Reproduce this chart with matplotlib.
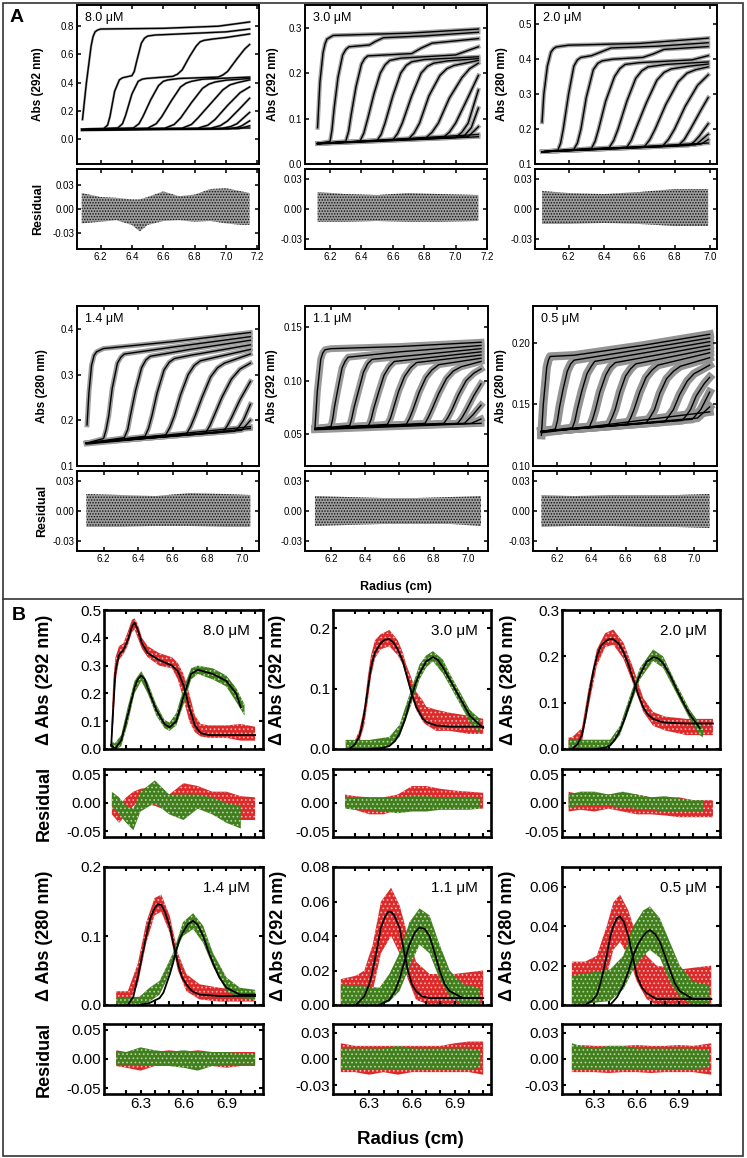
import matplotlib
matplotlib.use("Agg")
import matplotlib.pyplot as plt
from matplotlib.lines import Line2D
from matplotlib.patches import Rectangle
from matplotlib.ticker import FormatStrFormatter

plt.rcParams["font.family"] = ["Liberation Sans", "DejaVu Sans"]
plt.rcParams["hatch.linewidth"] = 0.7

# ---------------- panel A: scans, (radius cm, absorbance) ----------------
scans_80 = [
    [(6.085, 0.14), (6.11, 0.40), (6.14, 0.66), (6.152, 0.725), (6.165, 0.76), (6.18, 0.772), (6.20, 0.78),
     (6.60, 0.785), (6.95, 0.80), (7.15, 0.83)],
    [(6.08, 0.07), (6.22, 0.075), (6.245, 0.10), (6.26, 0.16), (6.29, 0.34), (6.32, 0.42), (6.34, 0.435),
     (6.36, 0.44), (6.40, 0.45), (6.415, 0.48), (6.43, 0.55), (6.46, 0.68), (6.48, 0.715), (6.50, 0.73),
     (6.55, 0.738), (6.60, 0.74), (7.00, 0.76), (7.15, 0.78)],
    [(6.08, 0.07), (6.31, 0.08), (6.34, 0.11), (6.36, 0.17), (6.40, 0.32), (6.44, 0.41), (6.465, 0.425),
     (6.49, 0.43), (6.66, 0.445), (6.69, 0.46), (6.72, 0.49), (6.77, 0.59), (6.81, 0.66), (6.835, 0.69),
     (6.86, 0.70), (6.92, 0.71), (7.00, 0.72), (7.15, 0.745)],
    [(6.08, 0.07), (6.41, 0.08), (6.445, 0.11), (6.47, 0.16), (6.52, 0.28), (6.57, 0.38), (6.60, 0.41),
     (6.63, 0.42), (6.70, 0.43), (6.95, 0.44), (6.98, 0.455), (7.01, 0.48), (7.07, 0.57), (7.12, 0.64), (7.15, 0.67)],
    [(6.08, 0.068), (6.50, 0.078), (6.555, 0.11), (6.59, 0.16), (6.65, 0.27), (6.71, 0.37), (6.745, 0.397),
     (6.78, 0.41), (6.85, 0.425), (7.15, 0.44)],
    [(6.08, 0.068), (6.61, 0.078), (6.67, 0.105), (6.71, 0.15), (6.78, 0.26), (6.85, 0.36), (6.89, 0.39),
     (6.93, 0.405), (7.00, 0.418), (7.15, 0.43)],
    [(6.08, 0.067), (6.72, 0.078), (6.78, 0.105), (6.82, 0.15), (6.90, 0.25), (6.98, 0.35), (7.025, 0.385),
     (7.07, 0.40), (7.15, 0.42)],
    [(6.08, 0.067), (6.82, 0.078), (6.885, 0.10), (6.93, 0.14), (7.01, 0.24), (7.09, 0.33), (7.15, 0.37)],
    [(6.08, 0.066), (6.90, 0.077), (6.965, 0.097), (7.01, 0.13), (7.09, 0.22), (7.15, 0.29)],
    [(6.08, 0.066), (6.97, 0.076), (7.03, 0.09), (7.07, 0.11), (7.15, 0.19)],
    [(6.08, 0.065), (7.02, 0.074), (7.07, 0.083), (7.10, 0.095), (7.15, 0.13)],
    [(6.08, 0.065), (7.08, 0.075), (7.15, 0.095)],
    [(6.08, 0.065), (7.15, 0.08)],
]
scans_30 = [
    [(6.12, 0.08), (6.135, 0.18), (6.155, 0.245), (6.168, 0.265), (6.18, 0.275), (6.22, 0.283), (6.70, 0.288),
     (7.145, 0.297)],
    [(6.12, 0.045), (6.20, 0.05), (6.212, 0.075), (6.225, 0.12), (6.25, 0.19), (6.28, 0.24), (6.30, 0.252),
     (6.32, 0.258), (6.45, 0.262), (6.49, 0.27), (6.54, 0.278), (6.80, 0.282), (7.145, 0.29)],
    [(6.12, 0.045), (6.30, 0.05), (6.318, 0.072), (6.335, 0.11), (6.365, 0.17), (6.40, 0.22), (6.42, 0.232),
     (6.44, 0.238), (6.72, 0.243), (6.78, 0.255), (6.85, 0.266), (7.145, 0.276)],
    [(6.12, 0.045), (6.39, 0.05), (6.415, 0.068), (6.44, 0.10), (6.48, 0.155), (6.52, 0.20), (6.55, 0.218),
     (6.58, 0.228), (6.65, 0.233), (7.00, 0.24), (7.08, 0.25), (7.145, 0.258)],
    [(6.12, 0.045), (6.50, 0.052), (6.525, 0.065), (6.55, 0.09), (6.60, 0.15), (6.65, 0.20), (6.685, 0.217),
     (6.72, 0.225), (6.80, 0.23), (7.145, 0.236)],
    [(6.12, 0.045), (6.60, 0.053), (6.63, 0.067), (6.66, 0.09), (6.72, 0.15), (6.78, 0.20), (6.82, 0.215),
     (6.86, 0.222), (6.95, 0.227), (7.145, 0.232)],
    [(6.12, 0.045), (6.70, 0.055), (6.735, 0.068), (6.77, 0.09), (6.83, 0.15), (6.90, 0.195), (6.945, 0.21),
     (6.99, 0.217), (7.145, 0.228)],
    [(6.12, 0.045), (6.81, 0.057), (6.85, 0.07), (6.89, 0.09), (6.96, 0.145), (7.04, 0.19), (7.09, 0.21),
     (7.145, 0.222)],
    [(6.12, 0.045), (6.92, 0.058), (6.96, 0.07), (7.00, 0.09), (7.07, 0.14), (7.145, 0.195)],
    [(6.12, 0.045), (7.00, 0.058), (7.04, 0.07), (7.08, 0.09), (7.145, 0.163)],
    [(6.12, 0.045), (7.05, 0.06), (7.10, 0.08), (7.145, 0.123)],
    [(6.12, 0.045), (7.08, 0.06), (7.145, 0.082)],
    [(6.12, 0.045), (7.145, 0.065)],
    [(6.12, 0.044), (7.145, 0.06)],
]
scans_20 = [
    [(6.05, 0.22), (6.06, 0.30), (6.08, 0.38), (6.10, 0.42), (6.115, 0.43), (6.13, 0.435), (6.20, 0.44),
     (6.60, 0.445), (6.99, 0.46)],
    [(6.05, 0.135), (6.14, 0.14), (6.155, 0.16), (6.17, 0.20), (6.20, 0.30), (6.23, 0.38), (6.25, 0.398),
     (6.27, 0.405), (6.33, 0.41), (6.38, 0.42), (6.44, 0.432), (6.70, 0.437), (6.99, 0.447)],
    [(6.05, 0.135), (6.23, 0.142), (6.25, 0.16), (6.27, 0.20), (6.30, 0.29), (6.34, 0.37), (6.365, 0.388),
     (6.39, 0.395), (6.45, 0.40), (6.62, 0.405), (6.68, 0.415), (6.74, 0.428), (6.99, 0.436)],
    [(6.05, 0.135), (6.33, 0.145), (6.35, 0.165), (6.37, 0.20), (6.41, 0.28), (6.46, 0.35), (6.49, 0.373),
     (6.52, 0.385), (6.60, 0.39), (6.90, 0.398), (6.99, 0.41)],
    [(6.05, 0.135), (6.43, 0.147), (6.455, 0.167), (6.48, 0.20), (6.53, 0.28), (6.58, 0.345), (6.615, 0.367),
     (6.65, 0.378), (6.75, 0.385), (6.99, 0.392)],
    [(6.05, 0.135), (6.53, 0.148), (6.555, 0.168), (6.58, 0.20), (6.64, 0.275), (6.70, 0.34), (6.74, 0.362),
     (6.78, 0.372), (6.88, 0.38), (6.99, 0.386)],
    [(6.05, 0.135), (6.63, 0.15), (6.66, 0.17), (6.69, 0.20), (6.75, 0.27), (6.82, 0.335), (6.87, 0.36),
     (6.92, 0.37), (6.99, 0.378)],
    [(6.05, 0.135), (6.73, 0.15), (6.765, 0.17), (6.80, 0.20), (6.86, 0.265), (6.93, 0.325), (6.99, 0.355)],
    [(6.05, 0.135), (6.82, 0.152), (6.855, 0.17), (6.89, 0.20), (6.95, 0.255), (6.99, 0.29)],
    [(6.05, 0.135), (6.88, 0.153), (6.91, 0.163), (6.94, 0.18), (6.99, 0.215)],
    [(6.05, 0.135), (6.92, 0.155), (6.99, 0.185)],
    [(6.05, 0.135), (6.95, 0.157), (6.99, 0.17)],
    [(6.05, 0.135), (6.99, 0.16)],
]
scans_14 = [
    [(6.104, 0.19), (6.115, 0.26), (6.13, 0.32), (6.145, 0.342), (6.16, 0.35), (6.20, 0.357), (6.60, 0.372),
     (7.05, 0.392)],
    [(6.10, 0.15), (6.20, 0.16), (6.215, 0.18), (6.23, 0.21), (6.25, 0.27), (6.28, 0.325), (6.30, 0.338),
     (6.32, 0.345), (6.60, 0.36), (7.05, 0.383)],
    [(6.10, 0.15), (6.32, 0.162), (6.34, 0.18), (6.355, 0.21), (6.385, 0.265), (6.42, 0.315), (6.445, 0.332),
     (6.47, 0.34), (6.70, 0.355), (7.05, 0.375)],
    [(6.10, 0.15), (6.44, 0.165), (6.46, 0.182), (6.48, 0.21), (6.51, 0.26), (6.55, 0.31), (6.58, 0.327),
     (6.61, 0.335), (6.70, 0.342), (7.05, 0.365)],
    [(6.10, 0.15), (6.56, 0.168), (6.585, 0.185), (6.61, 0.21), (6.645, 0.255), (6.69, 0.30), (6.725, 0.32),
     (6.76, 0.33), (6.85, 0.338), (7.05, 0.355)],
    [(6.10, 0.15), (6.68, 0.17), (6.705, 0.187), (6.73, 0.21), (6.77, 0.25), (6.82, 0.295), (6.86, 0.315),
     (6.90, 0.325), (7.05, 0.345)],
    [(6.10, 0.15), (6.79, 0.172), (6.815, 0.188), (6.84, 0.21), (6.885, 0.25), (6.94, 0.29), (6.99, 0.312),
     (7.05, 0.325)],
    [(6.10, 0.15), (6.89, 0.174), (6.915, 0.187), (6.94, 0.205), (6.99, 0.245), (7.05, 0.285)],
    [(6.10, 0.15), (6.96, 0.176), (6.985, 0.186), (7.01, 0.20), (7.05, 0.235)],
    [(6.10, 0.15), (7.00, 0.178), (7.05, 0.20)],
    [(6.10, 0.15), (7.05, 0.186)],
    [(6.10, 0.148), (7.05, 0.182)],
]
scans_11 = [
    [(6.106, 0.055), (6.12, 0.09), (6.14, 0.12), (6.152, 0.126), (6.165, 0.129), (6.20, 0.13), (6.60, 0.132),
     (7.077, 0.136)],
    [(6.106, 0.055), (6.20, 0.057), (6.21, 0.064), (6.22, 0.075), (6.24, 0.092), (6.265, 0.112), (6.282, 0.118),
     (6.30, 0.122), (6.60, 0.127), (7.077, 0.133)],
    [(6.106, 0.055), (6.31, 0.058), (6.322, 0.065), (6.335, 0.075), (6.36, 0.09), (6.39, 0.108), (6.415, 0.116),
     (6.44, 0.12), (6.70, 0.124), (7.077, 0.13)],
    [(6.106, 0.055), (6.42, 0.058), (6.435, 0.064), (6.45, 0.074), (6.48, 0.09), (6.51, 0.105), (6.54, 0.113),
     (6.57, 0.118), (7.077, 0.127)],
    [(6.106, 0.055), (6.53, 0.059), (6.548, 0.065), (6.565, 0.074), (6.595, 0.09), (6.63, 0.104), (6.665, 0.112),
     (6.70, 0.117), (7.077, 0.124)],
    [(6.106, 0.055), (6.64, 0.059), (6.66, 0.065), (6.68, 0.073), (6.715, 0.089), (6.755, 0.103), (6.79, 0.11),
     (6.83, 0.115), (7.077, 0.121)],
    [(6.106, 0.055), (6.75, 0.06), (6.77, 0.066), (6.79, 0.073), (6.83, 0.088), (6.875, 0.102), (6.915, 0.109),
     (6.96, 0.113), (7.077, 0.118)],
    [(6.106, 0.055), (6.86, 0.06), (6.882, 0.065), (6.905, 0.072), (6.946, 0.087), (6.99, 0.10), (7.035, 0.107),
     (7.077, 0.111)],
    [(6.106, 0.055), (6.94, 0.06), (6.965, 0.065), (6.99, 0.072), (7.035, 0.086), (7.077, 0.097)],
    [(6.106, 0.055), (6.98, 0.06), (7.03, 0.068), (7.077, 0.077)],
    [(6.106, 0.055), (7.02, 0.06), (7.077, 0.064)],
    [(6.106, 0.054), (7.077, 0.06)],
]
scans_05 = [
    [(6.109, 0.125), (6.12, 0.15), (6.14, 0.18), (6.15, 0.186), (6.16, 0.189), (6.30, 0.19), (6.70, 0.198),
     (7.091, 0.207)],
    [(6.109, 0.128), (6.19, 0.13), (6.203, 0.137), (6.215, 0.148), (6.235, 0.162), (6.26, 0.177), (6.28, 0.183),
     (6.30, 0.186), (6.70, 0.195), (7.091, 0.204)],
    [(6.109, 0.128), (6.29, 0.131), (6.305, 0.137), (6.32, 0.147), (6.345, 0.161), (6.375, 0.175), (6.40, 0.181),
     (6.42, 0.185), (7.091, 0.201)],
    [(6.109, 0.128), (6.39, 0.132), (6.408, 0.138), (6.425, 0.146), (6.45, 0.16), (6.485, 0.174), (6.51, 0.18),
     (6.54, 0.184), (7.091, 0.198)],
    [(6.109, 0.128), (6.50, 0.133), (6.52, 0.139), (6.54, 0.146), (6.567, 0.16), (6.60, 0.173), (6.63, 0.179),
     (6.66, 0.183), (7.091, 0.195)],
    [(6.109, 0.128), (6.61, 0.134), (6.63, 0.139), (6.65, 0.146), (6.683, 0.16), (6.72, 0.172), (6.755, 0.178),
     (6.79, 0.182), (7.091, 0.192)],
    [(6.109, 0.128), (6.72, 0.135), (6.745, 0.14), (6.77, 0.146), (6.80, 0.159), (6.84, 0.171), (6.88, 0.177),
     (6.92, 0.181), (7.091, 0.188)],
    [(6.109, 0.128), (6.83, 0.136), (6.855, 0.141), (6.88, 0.146), (6.916, 0.158), (6.96, 0.169), (7.00, 0.175),
     (7.04, 0.178), (7.091, 0.182)],
    [(6.109, 0.128), (6.93, 0.137), (6.955, 0.141), (6.98, 0.146), (7.013, 0.157), (7.06, 0.167), (7.091, 0.172)],
    [(6.109, 0.128), (6.99, 0.138), (7.04, 0.146), (7.091, 0.16)],
    [(6.109, 0.128), (7.02, 0.139), (7.091, 0.148)],
    [(6.109, 0.127), (7.091, 0.144)],
]

# residual clouds for panel A: radius, lower and upper edge of the point cloud
res80_r = [6.08, 6.20, 6.30, 6.40, 6.45, 6.50, 6.60, 6.70, 6.80, 6.90, 7.00, 7.10, 7.15]
res80_lo = [-0.018, -0.016, -0.014, -0.020, -0.028, -0.020, -0.015, -0.014, -0.016, -0.015, -0.018, -0.020, -0.020]
res80_hi = [0.020, 0.015, 0.014, 0.012, 0.012, 0.015, 0.022, 0.016, 0.018, 0.025, 0.026, 0.022, 0.020]
res30_r = [6.12, 6.30, 6.50, 6.70, 6.90, 7.145]
res30_lo = [-0.013, -0.013, -0.012, -0.013, -0.013, -0.012]
res30_hi = [0.017, 0.015, 0.014, 0.016, 0.015, 0.014]
res20_r = [6.05, 6.20, 6.40, 6.60, 6.80, 6.99]
res20_lo = [-0.015, -0.015, -0.014, -0.015, -0.017, -0.017]
res20_hi = [0.018, 0.016, 0.015, 0.017, 0.020, 0.020]
res14_r = [6.10, 6.30, 6.50, 6.70, 6.90, 7.05]
res14_lo = [-0.016, -0.016, -0.015, -0.015, -0.016, -0.016]
res14_hi = [0.017, 0.016, 0.015, 0.018, 0.017, 0.016]
res11_r = [6.106, 6.30, 6.50, 6.70, 6.90, 7.077]
res11_lo = [-0.015, -0.014, -0.013, -0.013, -0.013, -0.015]
res11_hi = [0.015, 0.014, 0.013, 0.013, 0.014, 0.015]
res05_r = [6.109, 6.30, 6.50, 6.70, 6.90, 7.091]
res05_lo = [-0.016, -0.015, -0.015, -0.016, -0.016, -0.017]
res05_hi = [0.016, 0.015, 0.016, 0.016, 0.016, 0.017]

# ---------------- panel B: difference curves ----------------
# data point bands (radius, lower, upper) and fitted curves (radius, value)
b80_red_r = [6.095, 6.11, 6.125, 6.15, 6.18, 6.21, 6.24, 6.258, 6.28, 6.31, 6.35, 6.43, 6.52, 6.56, 6.60, 6.64,
             6.68, 6.72, 6.78, 6.90, 7.00, 7.10]
b80_red_lo = [0.0, 0.10, 0.24, 0.32, 0.34, 0.37, 0.42, 0.43, 0.40, 0.36, 0.33, 0.30, 0.29, 0.25, 0.18, 0.10,
              0.06, 0.045, 0.04, 0.04, 0.03, 0.03]
b80_red_hi = [0.06, 0.25, 0.33, 0.37, 0.38, 0.42, 0.465, 0.47, 0.45, 0.40, 0.37, 0.345, 0.33, 0.31, 0.27, 0.20,
              0.12, 0.09, 0.085, 0.085, 0.09, 0.08]
b80_red_fit_r = [6.095, 6.11, 6.125, 6.15, 6.18, 6.21, 6.24, 6.258, 6.28, 6.31, 6.35, 6.43, 6.52, 6.56, 6.60, 6.64,
                 6.68, 6.72, 6.78, 7.10]
b80_red_fit = [0.01, 0.15, 0.28, 0.34, 0.355, 0.39, 0.44, 0.455, 0.43, 0.38, 0.345, 0.32, 0.30, 0.28, 0.23, 0.15,
               0.085, 0.057, 0.05, 0.05]
b80_grn_r = [6.095, 6.12, 6.165, 6.21, 6.258, 6.305, 6.35, 6.41, 6.467, 6.502, 6.55, 6.607, 6.653, 6.70, 6.805,
             6.898, 6.967, 7.026]
b80_grn_lo = [0.0, -0.005, 0.01, 0.09, 0.20, 0.245, 0.20, 0.12, 0.075, 0.065, 0.085, 0.17, 0.25, 0.27, 0.25,
              0.225, 0.17, 0.12]
b80_grn_hi = [0.03, 0.02, 0.05, 0.15, 0.245, 0.28, 0.24, 0.16, 0.105, 0.095, 0.13, 0.23, 0.29, 0.30, 0.29,
              0.265, 0.22, 0.16]
b80_grn_fit_r = [6.095, 6.12, 6.165, 6.21, 6.258, 6.28, 6.305, 6.33, 6.35, 6.41, 6.467, 6.502, 6.55, 6.607, 6.653,
                 6.70, 6.805, 6.898, 6.967, 7.0]
b80_grn_fit = [0.015, 0.0, 0.03, 0.12, 0.22, 0.25, 0.265, 0.25, 0.22, 0.14, 0.09, 0.078, 0.10, 0.20, 0.27,
               0.285, 0.27, 0.245, 0.20, 0.15]

b30_red_r = [6.135, 6.20, 6.229, 6.265, 6.29, 6.312, 6.34, 6.38, 6.441, 6.50, 6.535, 6.559, 6.60, 6.629, 6.676,
             6.70, 6.77, 6.865, 7.00, 7.10]
b30_red_lo = [0.0, 0.0, 0.01, 0.04, 0.08, 0.12, 0.15, 0.165, 0.17, 0.155, 0.14, 0.12, 0.085, 0.065, 0.045,
              0.04, 0.03, 0.03, 0.025, 0.025]
b30_red_hi = [0.015, 0.015, 0.03, 0.07, 0.12, 0.155, 0.18, 0.19, 0.197, 0.18, 0.16, 0.14, 0.115, 0.095, 0.08,
              0.07, 0.065, 0.06, 0.055, 0.05]
b30_red_fit_r = [6.159, 6.20, 6.229, 6.25, 6.265, 6.29, 6.312, 6.34, 6.38, 6.41, 6.441, 6.47, 6.50, 6.535, 6.559,
                 6.60, 6.629, 6.676, 6.70, 6.74, 6.77, 6.865, 7.10]
b30_red_fit = [0.0, 0.008, 0.02, 0.04, 0.06, 0.10, 0.135, 0.16, 0.175, 0.181, 0.182, 0.176, 0.165, 0.145, 0.125,
               0.09, 0.07, 0.05, 0.045, 0.041, 0.039, 0.037, 0.037]
b30_grn_r = [6.135, 6.30, 6.441, 6.512, 6.582, 6.653, 6.70, 6.747, 6.817, 6.865, 6.912, 7.006, 7.076]
b30_grn_lo = [0.0, 0.0, 0.005, 0.02, 0.065, 0.115, 0.135, 0.145, 0.125, 0.105, 0.085, 0.045, 0.025]
b30_grn_hi = [0.015, 0.015, 0.02, 0.04, 0.09, 0.14, 0.155, 0.162, 0.148, 0.125, 0.105, 0.065, 0.05]
b30_grn_fit_r = [6.30, 6.40, 6.441, 6.48, 6.512, 6.55, 6.582, 6.62, 6.653, 6.70, 6.747, 6.78, 6.817, 6.865, 6.912,
                 6.96, 7.006, 7.10]
b30_grn_fit = [0.0, 0.002, 0.005, 0.013, 0.025, 0.048, 0.075, 0.105, 0.125, 0.145, 0.152, 0.148, 0.135, 0.115,
               0.095, 0.075, 0.055, 0.035]

b20_red_r = [6.117, 6.14, 6.211, 6.258, 6.317, 6.376, 6.434, 6.505, 6.575, 6.646, 6.716, 6.80, 6.952, 7.14]
b20_red_lo = [0.0, 0.0, 0.015, 0.09, 0.18, 0.22, 0.225, 0.195, 0.14, 0.08, 0.05, 0.04, 0.03, 0.03]
b20_red_hi = [0.025, 0.025, 0.045, 0.13, 0.215, 0.25, 0.258, 0.23, 0.175, 0.11, 0.08, 0.07, 0.065, 0.065]
b20_red_fit_r = [6.14, 6.18, 6.211, 6.235, 6.258, 6.29, 6.317, 6.345, 6.376, 6.405, 6.434, 6.47, 6.505, 6.54, 6.575,
                 6.61, 6.646, 6.68, 6.716, 6.76, 6.80, 6.952, 7.14]
b20_red_fit = [0.0, 0.01, 0.03, 0.065, 0.11, 0.165, 0.20, 0.222, 0.232, 0.237, 0.237, 0.228, 0.21, 0.183, 0.15,
               0.118, 0.09, 0.074, 0.065, 0.06, 0.057, 0.055, 0.055]
b20_grn_r = [6.117, 6.317, 6.411, 6.481, 6.552, 6.622, 6.716, 6.787, 6.881, 6.975, 7.046, 7.07]
b20_grn_lo = [0.0, 0.0, 0.005, 0.03, 0.09, 0.15, 0.19, 0.175, 0.12, 0.065, 0.03, 0.025]
b20_grn_hi = [0.02, 0.02, 0.02, 0.05, 0.115, 0.175, 0.215, 0.20, 0.14, 0.085, 0.055, 0.045]
b20_grn_fit_r = [6.317, 6.38, 6.411, 6.445, 6.481, 6.515, 6.552, 6.59, 6.622, 6.67, 6.716, 6.75, 6.787, 6.835,
                 6.881, 6.93, 6.975, 7.046]
b20_grn_fit = [0.0, 0.003, 0.008, 0.02, 0.04, 0.066, 0.10, 0.135, 0.16, 0.188, 0.198, 0.196, 0.185, 0.16, 0.13,
               0.10, 0.075, 0.045]

b14_red_r = [6.13, 6.211, 6.281, 6.34, 6.398, 6.445, 6.503, 6.561, 6.62, 6.713, 6.85, 7.10]
b14_red_lo = [0.0, 0.0, 0.03, 0.09, 0.13, 0.135, 0.105, 0.05, 0.02, 0.008, 0.005, 0.005]
b14_red_hi = [0.02, 0.02, 0.06, 0.12, 0.155, 0.16, 0.13, 0.075, 0.045, 0.03, 0.025, 0.02]
b14_red_fit_r = [6.211, 6.25, 6.281, 6.31, 6.34, 6.37, 6.398, 6.42, 6.445, 6.47, 6.503, 6.53, 6.561, 6.59, 6.62,
                 6.66, 6.713, 6.85, 7.10]
b14_red_fit = [0.0, 0.012, 0.04, 0.07, 0.10, 0.127, 0.14, 0.146, 0.145, 0.135, 0.115, 0.088, 0.06, 0.04, 0.03,
               0.02, 0.015, 0.013, 0.013]
b14_grn_r = [6.13, 6.293, 6.363, 6.433, 6.48, 6.526, 6.573, 6.596, 6.667, 6.737, 6.807, 6.90, 6.994, 7.10]
b14_grn_lo = [0.0, 0.0, 0.005, 0.015, 0.035, 0.06, 0.09, 0.10, 0.11, 0.09, 0.055, 0.02, 0.01, 0.008]
b14_grn_hi = [0.01, 0.012, 0.025, 0.035, 0.055, 0.075, 0.105, 0.12, 0.133, 0.115, 0.075, 0.04, 0.025, 0.022]
b14_grn_fit_r = [6.293, 6.363, 6.433, 6.46, 6.48, 6.505, 6.526, 6.55, 6.573, 6.596, 6.63, 6.667, 6.70, 6.737, 6.77,
                 6.807, 6.85, 6.90, 6.994, 7.10]
b14_grn_fit = [0.0, 0.003, 0.01, 0.018, 0.03, 0.045, 0.06, 0.08, 0.095, 0.105, 0.117, 0.122, 0.116, 0.10, 0.08,
               0.06, 0.04, 0.025, 0.015, 0.015]

b11_red_r = [6.10, 6.206, 6.265, 6.324, 6.382, 6.453, 6.512, 6.571, 6.629, 6.723, 6.90, 7.10]
b11_red_lo = [0.0, 0.0, 0.0, 0.008, 0.03, 0.04, 0.03, 0.015, 0.003, 0.0, 0.0, 0.0]
b11_red_hi = [0.015, 0.017, 0.02, 0.035, 0.06, 0.068, 0.058, 0.04, 0.025, 0.018, 0.018, 0.02]
b11_red_fit_r = [6.206, 6.265, 6.30, 6.324, 6.355, 6.382, 6.41, 6.432, 6.453, 6.475, 6.512, 6.54, 6.571, 6.60, 6.629,
                 6.67, 6.723, 6.90, 7.10]
b11_red_fit = [0.0, 0.005, 0.012, 0.02, 0.033, 0.045, 0.051, 0.054, 0.054, 0.052, 0.045, 0.033, 0.02, 0.012, 0.008,
               0.005, 0.004, 0.004, 0.004]
b11_grn_r = [6.10, 6.371, 6.441, 6.512, 6.582, 6.653, 6.723, 6.794, 6.865, 6.958, 7.076]
b11_grn_lo = [0.0, 0.0, 0.002, 0.008, 0.022, 0.035, 0.03, 0.015, 0.005, 0.0, 0.0]
b11_grn_hi = [0.012, 0.01, 0.018, 0.03, 0.048, 0.056, 0.052, 0.035, 0.02, 0.012, 0.01]
b11_grn_fit_r = [6.371, 6.441, 6.48, 6.512, 6.55, 6.582, 6.62, 6.653, 6.69, 6.723, 6.76, 6.794, 6.83, 6.865, 6.958,
                 7.10]
b11_grn_fit = [0.0, 0.003, 0.008, 0.015, 0.026, 0.035, 0.042, 0.045, 0.044, 0.04, 0.03, 0.02, 0.012, 0.008, 0.004,
               0.004]

b05_red_r = [6.14, 6.234, 6.317, 6.387, 6.434, 6.481, 6.54, 6.60, 6.67, 6.74, 6.90, 7.128]
b05_red_lo = [0.0, 0.0, 0.002, 0.015, 0.028, 0.032, 0.025, 0.012, 0.003, 0.0, 0.0, 0.0]
b05_red_hi = [0.022, 0.022, 0.025, 0.04, 0.052, 0.056, 0.048, 0.035, 0.025, 0.02, 0.018, 0.02]
b05_red_fit_r = [6.234, 6.28, 6.317, 6.35, 6.387, 6.41, 6.434, 6.46, 6.481, 6.51, 6.54, 6.57, 6.60, 6.635, 6.67,
                 6.74, 6.90, 7.128]
b05_red_fit = [0.0, 0.002, 0.005, 0.013, 0.025, 0.034, 0.04, 0.044, 0.045, 0.042, 0.035, 0.025, 0.015, 0.009,
               0.006, 0.003, 0.003, 0.003]
b05_grn_r = [6.14, 6.411, 6.505, 6.575, 6.646, 6.693, 6.764, 6.834, 6.905, 6.999, 7.117]
b05_grn_lo = [0.0, 0.002, 0.008, 0.018, 0.025, 0.028, 0.024, 0.012, 0.004, 0.0, 0.0]
b05_grn_hi = [0.015, 0.018, 0.025, 0.04, 0.048, 0.05, 0.044, 0.032, 0.02, 0.012, 0.01]
b05_grn_fit_r = [6.411, 6.46, 6.505, 6.54, 6.575, 6.61, 6.646, 6.67, 6.693, 6.73, 6.764, 6.80, 6.834, 6.87, 6.905,
                 6.999, 7.128]
b05_grn_fit = [0.0, 0.004, 0.01, 0.017, 0.025, 0.031, 0.035, 0.037, 0.038, 0.036, 0.032, 0.025, 0.018, 0.011,
               0.007, 0.003, 0.003]

# residual bands for panel B (radius, lower, upper)
rb80_red_r = [6.10, 6.15, 6.20, 6.25, 6.30, 6.40, 6.50, 6.60, 6.70, 6.80, 6.90, 7.00, 7.10]
rb80_red_lo = [-0.02, -0.035, -0.02, -0.005, 0.0, -0.005, -0.015, 0.0, -0.01, -0.015, -0.02, -0.03, -0.03]
rb80_red_hi = [0.012, -0.005, 0.01, 0.02, 0.025, 0.03, 0.015, 0.035, 0.03, 0.02, 0.02, 0.012, 0.01]
rb80_grn_r = [6.10, 6.15, 6.20, 6.25, 6.30, 6.40, 6.50, 6.60, 6.70, 6.80, 6.90, 7.00]
rb80_grn_lo = [-0.005, -0.02, -0.035, -0.048, -0.015, 0.0, -0.02, -0.03, -0.01, -0.02, -0.035, -0.045]
rb80_grn_hi = [0.02, 0.01, -0.005, -0.01, 0.02, 0.04, 0.015, 0.015, 0.015, 0.01, 0.0, -0.005]

rb30_red_r = [6.13, 6.20, 6.30, 6.40, 6.50, 6.60, 6.70, 6.80, 6.90, 7.00, 7.10]
rb30_red_lo = [-0.008, -0.012, -0.02, -0.02, -0.012, -0.003, -0.005, -0.008, -0.01, -0.01, -0.01]
rb30_red_hi = [0.015, 0.012, 0.01, 0.01, 0.015, 0.03, 0.03, 0.025, 0.022, 0.02, 0.018]
rb30_grn_r = [6.13, 6.20, 6.30, 6.40, 6.50, 6.60, 6.70, 6.80, 6.90, 7.00, 7.08]
rb30_grn_lo = [-0.01, -0.012, -0.012, -0.015, -0.018, -0.015, -0.015, -0.012, -0.012, -0.012, -0.01]
rb30_grn_hi = [0.01, 0.01, 0.01, 0.01, 0.01, 0.012, 0.012, 0.01, 0.01, 0.01, 0.008]

rb20_red_r = [6.117, 6.20, 6.30, 6.40, 6.50, 6.60, 6.70, 6.80, 6.90, 7.00, 7.14]
rb20_red_lo = [-0.015, -0.012, -0.015, -0.01, -0.015, -0.02, -0.02, -0.022, -0.025, -0.025, -0.025]
rb20_red_hi = [0.02, 0.015, 0.015, 0.015, 0.015, 0.015, 0.01, 0.01, 0.01, 0.005, 0.005]
rb20_grn_r = [6.117, 6.20, 6.30, 6.40, 6.50, 6.60, 6.70, 6.80, 6.90, 7.00, 7.07]
rb20_grn_lo = [-0.008, -0.005, -0.005, -0.005, -0.008, -0.01, -0.012, -0.015, -0.015, -0.015, -0.015]
rb20_grn_hi = [0.015, 0.02, 0.02, 0.015, 0.02, 0.015, 0.01, 0.012, 0.008, 0.005, 0.005]

rb14_red_r = [6.13, 6.20, 6.30, 6.40, 6.50, 6.60, 6.70, 6.80, 6.90, 7.00, 7.10]
rb14_red_lo = [-0.012, -0.015, -0.02, -0.012, -0.012, -0.012, -0.012, -0.012, -0.015, -0.012, -0.012]
rb14_red_hi = [0.015, 0.012, 0.01, 0.012, 0.015, 0.012, 0.015, 0.012, 0.012, 0.012, 0.012]
rb14_grn_r = [6.13, 6.20, 6.30, 6.40, 6.50, 6.60, 6.70, 6.80, 6.90, 7.00, 7.10]
rb14_grn_lo = [-0.01, -0.01, -0.01, -0.012, -0.012, -0.015, -0.02, -0.012, -0.01, -0.01, -0.01]
rb14_grn_hi = [0.012, 0.012, 0.02, 0.015, 0.012, 0.015, 0.012, 0.012, 0.012, 0.01, 0.01]

rb11_red_r = [6.10, 6.20, 6.30, 6.40, 6.50, 6.60, 6.70, 6.80, 6.90, 7.00, 7.10]
rb11_red_lo = [-0.015, -0.015, -0.018, -0.015, -0.018, -0.015, -0.015, -0.015, -0.015, -0.015, -0.018]
rb11_red_hi = [0.018, 0.015, 0.015, 0.015, 0.015, 0.015, 0.015, 0.015, 0.018, 0.02, 0.02]
rb11_grn_r = [6.10, 6.20, 6.30, 6.40, 6.50, 6.60, 6.70, 6.80, 6.90, 7.00, 7.08]
rb11_grn_lo = [-0.012, -0.012, -0.012, -0.012, -0.012, -0.012, -0.012, -0.012, -0.012, -0.012, -0.01]
rb11_grn_hi = [0.012, 0.012, 0.012, 0.012, 0.015, 0.012, 0.012, 0.012, 0.012, 0.012, 0.01]

rb05_red_r = [6.14, 6.20, 6.30, 6.40, 6.50, 6.60, 6.70, 6.80, 6.90, 7.00, 7.128]
rb05_red_lo = [-0.015, -0.015, -0.015, -0.016, -0.015, -0.015, -0.016, -0.015, -0.015, -0.015, -0.018]
rb05_red_hi = [0.015, 0.016, 0.015, 0.015, 0.015, 0.016, 0.015, 0.015, 0.016, 0.015, 0.018]
rb05_grn_r = [6.14, 6.20, 6.30, 6.40, 6.50, 6.60, 6.70, 6.80, 6.90, 7.00, 7.117]
rb05_grn_lo = [-0.012, -0.012, -0.012, -0.012, -0.012, -0.012, -0.012, -0.012, -0.012, -0.012, -0.01]
rb05_grn_hi = [0.018, 0.015, 0.012, 0.015, 0.015, 0.012, 0.012, 0.012, 0.012, 0.012, 0.01]

conc_labels = ["8.0 μM", "3.0 μM", "2.0 μM", "1.4 μM", "1.1 μM", "0.5 μM"]
wavelengths = ["292", "292", "280", "280", "292", "280"]

RED = "#dc2a2a"
GREEN = "#417f1d"

W, H = 747, 1158
fig = plt.figure(figsize=(W / 100, H / 100), dpi=100)


def box(x0, x1, y0, y1):
    # pixel box (top-left origin) -> axes
    return fig.add_axes([x0 / W, 1 - y1 / H, (x1 - x0) / W, (y1 - y0) / H])


def frame(ax, lw, tlen, size):
    for s in ax.spines.values():
        s.set_linewidth(lw)
    ax.tick_params(direction="in", top=True, right=True, length=tlen, width=lw * 0.8,
                   labelsize=size, pad=2)


# ---------------- panel A ----------------
a_scans = [scans_80, scans_30, scans_20, scans_14, scans_11, scans_05]
a_res = [(res80_r, res80_lo, res80_hi), (res30_r, res30_lo, res30_hi), (res20_r, res20_lo, res20_hi),
         (res14_r, res14_lo, res14_hi), (res11_r, res11_lo, res11_hi), (res05_r, res05_lo, res05_hi)]
a_boxes = [(77, 259, 5, 164, 169, 249), (305, 487, 5, 164, 169, 249), (535, 717, 5, 164, 169, 249),
           (77, 259, 306, 466, 471, 551), (305, 488, 306, 466, 471, 551), (533, 717, 306, 466, 471, 551)]
a_xlim = [(6.05, 7.21), (6.04, 7.20), (6.01, 7.04), (6.046, 7.10), (6.048, 7.118), (6.06, 7.134)]
a_xt = [[6.2, 6.4, 6.6, 6.8, 7.0, 7.2], [6.2, 6.4, 6.6, 6.8, 7.0, 7.2], [6.2, 6.4, 6.6, 6.8, 7.0],
        [6.2, 6.4, 6.6, 6.8, 7.0], [6.2, 6.4, 6.6, 6.8, 7.0], [6.2, 6.4, 6.6, 6.8, 7.0]]
a_ylim = [(-0.175, 0.95), (0.0, 0.35), (0.1, 0.555), (0.1, 0.45), (0.02, 0.17), (0.1, 0.23)]
a_yt = [[0.0, 0.2, 0.4, 0.6, 0.8], [0.0, 0.1, 0.2, 0.3], [0.1, 0.2, 0.3, 0.4, 0.5], [0.1, 0.2, 0.3, 0.4],
        [0.05, 0.10, 0.15], [0.10, 0.15, 0.20]]
a_fmt = ["%.1f", "%.1f", "%.1f", "%.1f", "%.2f", "%.2f"]
a_rlim = [(-0.05, 0.05)] + [(-0.04, 0.04)] * 5
a_noise = [(1.8, "#a8a8a8"), (3.0, "#a0a0a0"), (3.0, "#a0a0a0"), (3.5, "#9c9c9c"), (5.0, "#999999"),
           (6.0, "#939393")]
a_ylab_x = [-0.181, -0.145, -0.148, -0.161, -0.148, -0.141]

for i in range(6):
    x0, x1, m0, m1, r0, r1 = a_boxes[i]
    ax = box(x0, x1, m0, m1)
    nlw, ncol = a_noise[i]
    for s in a_scans[i]:
        rr, aa = zip(*s)
        ax.plot(rr, aa, color=ncol, lw=nlw, solid_joinstyle="round", zorder=1)
    for s in a_scans[i]:
        rr, aa = zip(*s)
        ax.plot(rr, aa, color="black", lw=1.0, zorder=2)
    ax.set_xlim(*a_xlim[i])
    ax.set_ylim(*a_ylim[i])
    ax.set_xticks(a_xt[i])
    ax.set_yticks(a_yt[i])
    ax.set_xticklabels([])
    ax.yaxis.set_major_formatter(FormatStrFormatter(a_fmt[i]))
    frame(ax, 1.4, 2.6, 7)
    ax.set_ylabel("Abs (%s nm)" % wavelengths[i], fontsize=8.5, fontweight="bold")
    ax.yaxis.set_label_coords(a_ylab_x[i], 0.5)
    ax.text(0.045, 0.955, conc_labels[i], transform=ax.transAxes, ha="left", va="top", fontsize=9)

    rx = box(x0, x1, r0, r1)
    rr, lo, hi = a_res[i]
    rx.fill_between(rr, lo, hi, facecolor="#9e9e9e", edgecolor="#111111", hatch="......", linewidth=0)
    rx.set_xlim(*a_xlim[i])
    rx.set_ylim(*a_rlim[i])
    rx.set_xticks(a_xt[i])
    rx.set_yticks([-0.03, 0.0, 0.03])
    rx.yaxis.set_major_formatter(FormatStrFormatter("%.2f"))
    rx.xaxis.set_major_formatter(FormatStrFormatter("%.1f"))
    frame(rx, 1.4, 2.6, 7)
    if i in (0, 3):
        rx.set_ylabel("Residual", fontsize=9, fontweight="bold")
        rx.yaxis.set_label_coords(a_ylab_x[i], 0.5)

fig.text(396 / W, 1 - 587 / H, "Radius (cm)", ha="center", va="center", fontsize=9, fontweight="bold")

# ---------------- panel B ----------------
b_red = [(b80_red_r, b80_red_lo, b80_red_hi, b80_red_fit_r, b80_red_fit),
         (b30_red_r, b30_red_lo, b30_red_hi, b30_red_fit_r, b30_red_fit),
         (b20_red_r, b20_red_lo, b20_red_hi, b20_red_fit_r, b20_red_fit),
         (b14_red_r, b14_red_lo, b14_red_hi, b14_red_fit_r, b14_red_fit),
         (b11_red_r, b11_red_lo, b11_red_hi, b11_red_fit_r, b11_red_fit),
         (b05_red_r, b05_red_lo, b05_red_hi, b05_red_fit_r, b05_red_fit)]
b_grn = [(b80_grn_r, b80_grn_lo, b80_grn_hi, b80_grn_fit_r, b80_grn_fit),
         (b30_grn_r, b30_grn_lo, b30_grn_hi, b30_grn_fit_r, b30_grn_fit),
         (b20_grn_r, b20_grn_lo, b20_grn_hi, b20_grn_fit_r, b20_grn_fit),
         (b14_grn_r, b14_grn_lo, b14_grn_hi, b14_grn_fit_r, b14_grn_fit),
         (b11_grn_r, b11_grn_lo, b11_grn_hi, b11_grn_fit_r, b11_grn_fit),
         (b05_grn_r, b05_grn_lo, b05_grn_hi, b05_grn_fit_r, b05_grn_fit)]
b_rres = [(rb80_red_r, rb80_red_lo, rb80_red_hi), (rb30_red_r, rb30_red_lo, rb30_red_hi),
          (rb20_red_r, rb20_red_lo, rb20_red_hi), (rb14_red_r, rb14_red_lo, rb14_red_hi),
          (rb11_red_r, rb11_red_lo, rb11_red_hi), (rb05_red_r, rb05_red_lo, rb05_red_hi)]
b_gres = [(rb80_grn_r, rb80_grn_lo, rb80_grn_hi), (rb30_grn_r, rb30_grn_lo, rb30_grn_hi),
          (rb20_grn_r, rb20_grn_lo, rb20_grn_hi), (rb14_grn_r, rb14_grn_lo, rb14_grn_hi),
          (rb11_grn_r, rb11_grn_lo, rb11_grn_hi), (rb05_grn_r, rb05_grn_lo, rb05_grn_hi)]
b_boxes = [(104, 263, 610, 749, 769, 837), (333, 491, 610, 749, 769, 837), (562, 720, 610, 749, 769, 837),
           (104, 263, 867, 1005, 1024, 1094), (333, 491, 867, 1005, 1024, 1094), (562, 720, 867, 1005, 1024, 1094)]
b_xlim = [(6.045, 7.155), (6.045, 7.155), (6.07, 7.19)] * 2
b_ylim = [(0, 0.5), (0, 0.23), (0, 0.3), (0, 0.2), (0, 0.08), (0, 0.07)]
b_yt = [[0, 0.1, 0.2, 0.3, 0.4, 0.5], [0, 0.1, 0.2], [0, 0.1, 0.2, 0.3], [0, 0.1, 0.2],
        [0, 0.02, 0.04, 0.06, 0.08], [0, 0.02, 0.04, 0.06]]
b_fmt = ["%.1f", "%.1f", "%.1f", "%.1f", "%.2f", "%.2f"]
b_rlim = [(-0.06, 0.06)] * 4 + [(-0.04, 0.04)] * 2
b_rt = [[-0.05, 0.0, 0.05]] * 4 + [[-0.03, 0.0, 0.03]] * 2
b_ylab_x = [-0.32, -0.297, -0.285, -0.32, -0.29, -0.29]
b_xt = [6.2, 6.3, 6.4, 6.5, 6.6, 6.7, 6.8, 6.9, 7.0, 7.1]
b_xtl = ["" if t not in (6.3, 6.6, 6.9) else "%.1f" % t for t in b_xt]

for i in range(6):
    x0, x1, m0, m1, r0, r1 = b_boxes[i]
    ax = box(x0, x1, m0, m1)
    rr, lo, hi, fr, fit = b_red[i]
    ax.fill_between(rr, lo, hi, facecolor=RED, edgecolor="#f4b8b8", hatch="....", linewidth=0, zorder=1)
    gr, glo, ghi, gfr, gfit = b_grn[i]
    ax.fill_between(gr, glo, ghi, facecolor=GREEN, edgecolor="#b9d3a8", hatch="....", linewidth=0, zorder=2)
    ax.plot(fr, fit, color="black", lw=1.3, zorder=3)
    ax.plot(gfr, gfit, color="black", lw=1.3, zorder=3)
    ax.set_xlim(*b_xlim[i])
    ax.set_ylim(*b_ylim[i])
    ax.set_xticks(b_xt)
    ax.set_xticklabels([])
    ax.set_yticks(b_yt[i])
    ax.yaxis.set_major_formatter(FormatStrFormatter(b_fmt[i]))
    frame(ax, 1.9, 3.0, 11)
    ax.set_ylabel("Δ Abs (%s nm)" % wavelengths[i], fontsize=13, fontweight="bold")
    ax.yaxis.set_label_coords(b_ylab_x[i], 0.5)
    ax.text(0.92, 0.85, conc_labels[i], transform=ax.transAxes, ha="right", va="center", fontsize=11)

    rx = box(x0, x1, r0, r1)
    rr, lo, hi = b_rres[i]
    rx.fill_between(rr, lo, hi, facecolor=RED, edgecolor="#f4b8b8", hatch="....", linewidth=0, zorder=1)
    gr, glo, ghi = b_gres[i]
    rx.fill_between(gr, glo, ghi, facecolor=GREEN, edgecolor="#b9d3a8", hatch="....", linewidth=0, zorder=2)
    rx.set_xlim(*b_xlim[i])
    rx.set_ylim(*b_rlim[i])
    rx.set_xticks(b_xt)
    rx.set_xticklabels(b_xtl if i >= 3 else [])
    rx.set_yticks(b_rt[i])
    rx.yaxis.set_major_formatter(FormatStrFormatter("%.2f"))
    frame(rx, 1.9, 3.0, 11)
    if i in (0, 3):
        rx.set_ylabel("Residual", fontsize=13, fontweight="bold")
        rx.yaxis.set_label_coords(b_ylab_x[i], 0.5)

fig.text(410 / W, 1 - 1140 / H, "Radius (cm)", ha="center", va="center", fontsize=13.5, fontweight="bold")

# panel letters, outer frame and divider
fig.text(10 / W, 1 - 18 / H, "A", ha="left", va="center", fontsize=14, fontweight="bold")
fig.text(12 / W, 1 - 616 / H, "B", ha="left", va="center", fontsize=14, fontweight="bold")
fig.add_artist(Rectangle((2.5 / W, 1 - 1155.5 / H), 740.5 / W, 1153 / H, transform=fig.transFigure,
                         fill=False, lw=1.2, edgecolor="#333333"))
fig.add_artist(Line2D([2.5 / W, 743 / W], [1 - 599 / H, 1 - 599 / H], transform=fig.transFigure,
                      lw=1.2, color="#333333"))

fig.savefig("out.png", dpi=100)
